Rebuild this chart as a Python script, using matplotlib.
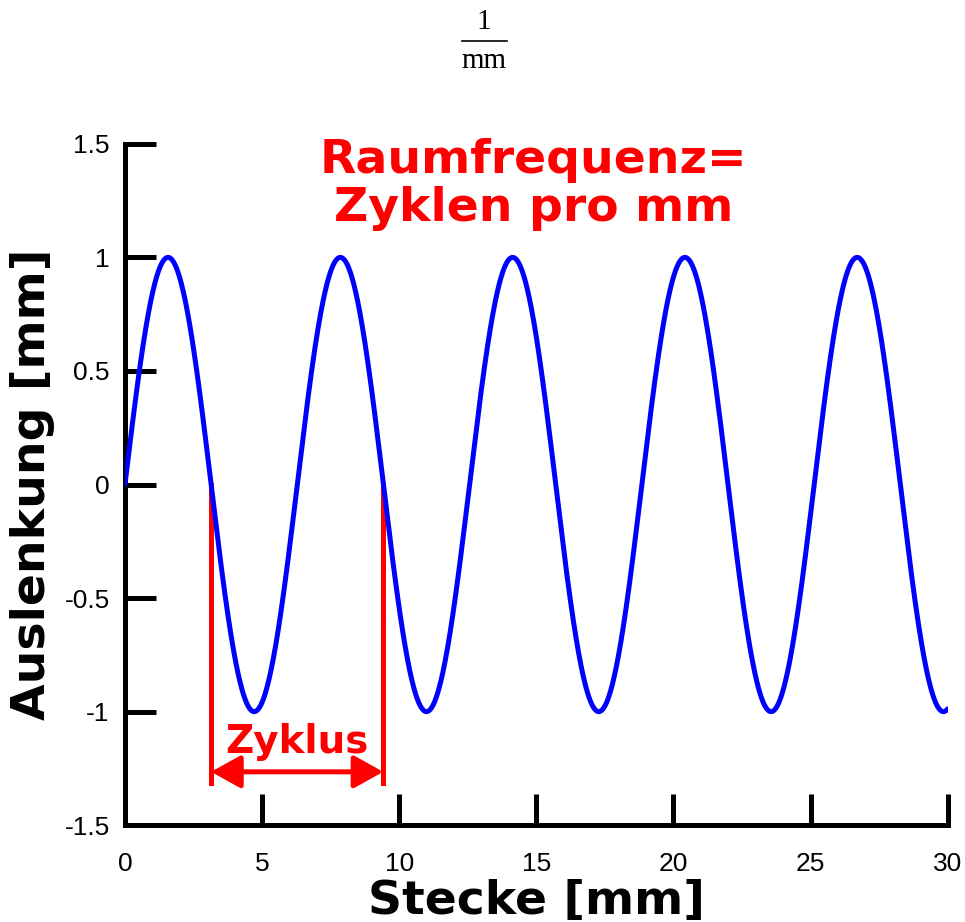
import numpy as np
import matplotlib
matplotlib.use("Agg")
import matplotlib.pyplot as plt
from matplotlib.lines import Line2D

# values
x_range = (0, 30)          # Stecke [mm]
amplitude = 1.0            # Auslenkung [mm]
wavelength = 2 * np.pi     # one cycle ~6.28 mm
cycle_start = 3.14         # first marked zero crossing
cycle_end = 9.42           # second marked zero crossing
xticks = [0, 5, 10, 15, 20, 25, 30]
xtick_labels = ["0", "5", "10", "15", "20", "25", "30"]
yticks = [-1.5, -1, -0.5, 0, 0.5, 1, 1.5]
ytick_labels = ["-1.5", "-1", "-0.5", "0", "0.5", "1", "1.5"]

fig = plt.figure(figsize=(9.65, 9.22), dpi=100)
ax = fig.add_axes([0.1295, 0.105, 0.8525, 0.739])

x = np.linspace(x_range[0], x_range[1], 2000)
y = amplitude * np.sin(2 * np.pi * x / wavelength)
ax.plot(x, y, color='#0000ff', lw=3.6, solid_capstyle='round', zorder=3)

# cycle markers
for xc in (cycle_start, cycle_end):
    ax.plot([xc, xc], [0, -1.315], color='#ff0000', lw=3.6, zorder=2)
ax.annotate('', xy=(cycle_start, -1.265), xytext=(cycle_end, -1.265),
            arrowprops=dict(arrowstyle='<|-|>,head_length=1.8,head_width=1.0',
                            color='#ff0000', lw=3.6, shrinkA=0, shrinkB=0))
ax.text((cycle_start + cycle_end) / 2, -1.18, 'Zyklus', color='#ff0000',
        fontsize=28, fontweight='bold', ha='center', va='baseline',
        family='DejaVu Sans')

ax.text(14.9, 1.322, 'Raumfrequenz=\nZyklen pro mm', color='#ff0000',
        fontsize=34, fontweight='bold', ha='center', va='center',
        linespacing=1.08, family='DejaVu Sans')

# "1 / mm" fraction at the top
fig.text(0.5016, 0.9685, '1', fontsize=21, family='Liberation Serif',
         ha='center', va='baseline')
fig.text(0.5016, 0.926, 'mm', fontsize=21, family='Liberation Serif',
         ha='center', va='baseline')
fig.add_artist(Line2D([0.4788, 0.5254], [0.9555, 0.9555], color='black',
                      lw=1.2, transform=fig.transFigure))

ax.set_xlim(*x_range)
ax.set_ylim(-1.5, 1.5)
ax.set_xticks(xticks)
ax.set_xticklabels(xtick_labels)
ax.set_yticks(yticks)
ax.set_yticklabels(ytick_labels)
ax.tick_params(direction='in', length=22, width=3.6, labelsize=19,
               labelfontfamily='Liberation Sans')
ax.tick_params(axis='x', pad=19)
ax.tick_params(axis='y', pad=11)

for side in ('top', 'right'):
    ax.spines[side].set_visible(False)
for side in ('left', 'bottom'):
    ax.spines[side].set_linewidth(3.6)

ax.set_xlabel('Stecke [mm]', fontsize=34, fontweight='bold', family='DejaVu Sans')
ax.set_ylabel('Auslenkung [mm]', fontsize=34, fontweight='bold', family='DejaVu Sans')
ax.xaxis.set_label_coords(0.5, -0.079)
ax.yaxis.set_label_coords(-0.085, 0.5)

fig.savefig('out.png', dpi=100)
